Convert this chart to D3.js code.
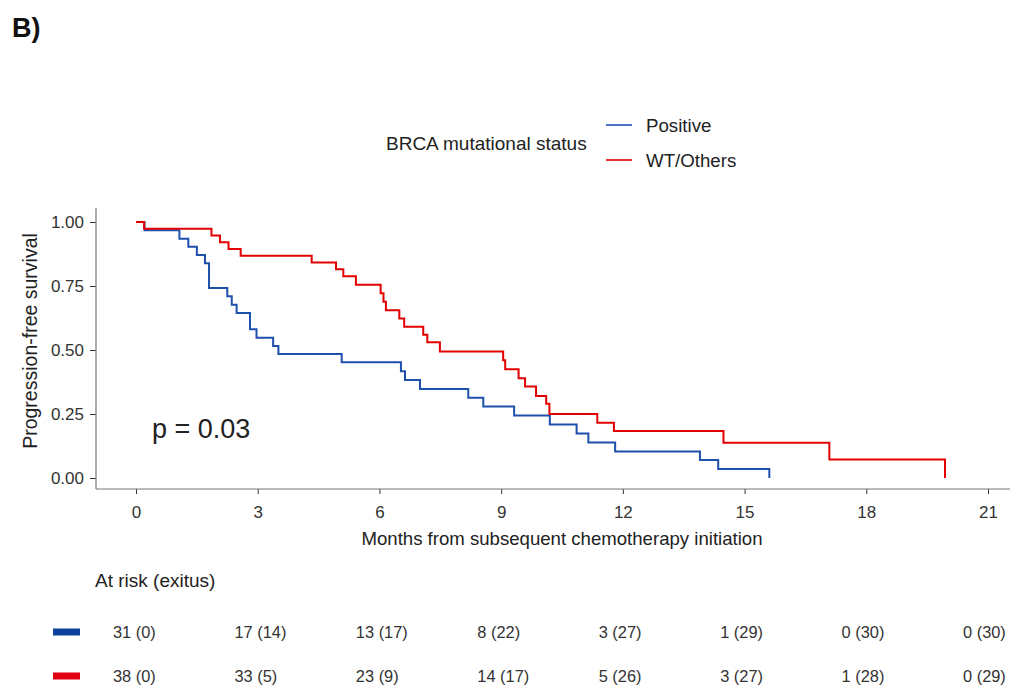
<!DOCTYPE html>
<html>
<head>
<meta charset="utf-8">
<script src="https://cdn.jsdelivr.net/npm/d3@7"></script>
<style>
  body { margin: 0; background: #fff; }
  text { font-family: "Liberation Sans", Arial, sans-serif; }
</style>
</head>
<body>
<svg id="chart" width="1020" height="688"></svg>
<script>
// groups and colours
var groups = ["Positive", "WT/Others"];
var colors = ["#1f4fad", "#e20000"];

// KM steps (months, survival)
var blueTime = [0, 0.21, 1.07, 1.29, 1.50, 1.70, 1.80, 2.25, 2.36, 2.48, 2.81, 2.97, 3.38, 3.51, 5.07, 6.53, 6.63, 7.00, 8.19, 8.56, 9.32, 10.20, 10.86, 11.15, 11.81, 13.90, 14.35, 15.61];
var blueSurv = [1, 0.968, 0.935, 0.903, 0.871, 0.839, 0.742, 0.710, 0.677, 0.645, 0.581, 0.548, 0.516, 0.484, 0.452, 0.417, 0.383, 0.348, 0.313, 0.279, 0.244, 0.209, 0.174, 0.139, 0.104, 0.070, 0.035, 0];

var redTime = [0, 0.20, 1.86, 2.07, 2.28, 2.58, 4.33, 4.93, 5.11, 5.42, 6.03, 6.10, 6.16, 6.49, 6.61, 7.08, 7.18, 7.49, 9.05, 9.10, 9.43, 9.59, 9.86, 10.11, 10.19, 11.37, 11.78, 14.48, 17.09, 19.94];
var redSurv = [1, 0.974, 0.947, 0.921, 0.895, 0.868, 0.842, 0.815, 0.788, 0.755, 0.722, 0.688, 0.655, 0.623, 0.591, 0.560, 0.530, 0.494, 0.460, 0.425, 0.390, 0.357, 0.320, 0.290, 0.250, 0.216, 0.184, 0.138, 0.072, 0];

var xTicks = [0, 3, 6, 9, 12, 15, 18, 21];
var yTicks = [0, 0.25, 0.5, 0.75, 1];

// at risk (exitus)
var riskBlue = ["31 (0)", "17 (14)", "13 (17)", "8 (22)", "3 (27)", "1 (29)", "0 (30)", "0 (30)"];
var riskRed  = ["38 (0)", "33 (5)", "23 (9)", "14 (17)", "5 (26)", "3 (27)", "1 (28)", "0 (29)"];

var svg = d3.select("#chart");

var x = d3.scaleLinear().domain([0, 21]).range([136, 988]);
var y = d3.scaleLinear().domain([0, 1]).range([478, 222]);

// panel label
svg.append("text")
    .attr("x", 12).attr("y", 37)
    .attr("font-size", 27).attr("font-weight", "bold")
    .attr("fill", "#111")
    .text("B)");

// legend
svg.append("text")
    .attr("x", 386).attr("y", 150)
    .attr("font-size", 19).attr("fill", "#222")
    .text("BRCA mutational status");

var legY = [125, 160];
groups.forEach(function(g, i) {
    svg.append("line")
        .attr("x1", 606).attr("x2", 632)
        .attr("y1", legY[i]).attr("y2", legY[i])
        .attr("stroke", colors[i]).attr("stroke-width", 1.6);
    svg.append("text")
        .attr("x", 646).attr("y", legY[i] + 6.5)
        .attr("font-size", 18.7).attr("fill", "#222")
        .text(g);
});

// axes
var xAxis = svg.append("g")
    .attr("transform", "translate(0,489)")
    .call(d3.axisBottom(x).tickValues(xTicks).tickSize(5).tickPadding(12).tickFormat(d3.format("d")));
xAxis.select(".domain").remove();
xAxis.selectAll("line").attr("stroke", "#333");
xAxis.selectAll("text").attr("font-size", 17).attr("fill", "#333")
    .style("font-family", "'Liberation Sans', Arial, sans-serif");

var yAxis = svg.append("g")
    .attr("transform", "translate(96,0)")
    .call(d3.axisLeft(y).tickValues(yTicks).tickSize(6).tickPadding(6).tickFormat(d3.format(".2f")));
yAxis.select(".domain").remove();
yAxis.selectAll("line").attr("stroke", "#333");
yAxis.selectAll("text").attr("font-size", 17).attr("fill", "#333")
    .style("font-family", "'Liberation Sans', Arial, sans-serif");

svg.append("line")
    .attr("x1", 96).attr("x2", 1010).attr("y1", 489).attr("y2", 489)
    .attr("stroke", "#777").attr("stroke-width", 1.2);
svg.append("line")
    .attr("x1", 96).attr("x2", 96).attr("y1", 208).attr("y2", 489)
    .attr("stroke", "#777").attr("stroke-width", 1.2);

// axis titles
svg.append("text")
    .attr("x", 562).attr("y", 545)
    .attr("text-anchor", "middle")
    .attr("font-size", 18.6).attr("fill", "#222")
    .text("Months from subsequent chemotherapy initiation");

svg.append("text")
    .attr("transform", "translate(37,341) rotate(-90)")
    .attr("text-anchor", "middle")
    .attr("font-size", 19.5).attr("fill", "#222")
    .text("Progression-free survival");

// curves
var line = d3.line()
    .x(function(d) { return x(d[0]); })
    .y(function(d) { return y(d[1]); })
    .curve(d3.curveStepAfter);

var series = [d3.zip(blueTime, blueSurv), d3.zip(redTime, redSurv)];
series.forEach(function(s, i) {
    svg.append("path")
        .datum(s)
        .attr("d", line)
        .attr("fill", "none")
        .attr("stroke", colors[i])
        .attr("stroke-width", 2);
});

// p value
svg.append("text")
    .attr("x", 152).attr("y", 438)
    .attr("font-size", 27).attr("fill", "#222")
    .text("p = 0.03");

// risk table
svg.append("text")
    .attr("x", 95).attr("y", 587)
    .attr("font-size", 19).attr("fill", "#222")
    .text("At risk (exitus)");

var xr = d3.scaleLinear().domain([0, 21]).range([113, 963]);
var rowY = [632, 676];
[riskBlue, riskRed].forEach(function(row, i) {
    svg.append("rect")
        .attr("x", 53).attr("y", rowY[i] - 3.5)
        .attr("width", 27).attr("height", 7)
        .attr("fill", i === 0 ? "#0d3f9e" : "#e0000f");
    svg.selectAll(".risk" + i)
        .data(row)
        .enter()
        .append("text")
        .attr("class", "risk" + i)
        .attr("x", function(d, j) { return xr(xTicks[j]); })
        .attr("y", rowY[i] + 6)
        .attr("font-size", 16.4)
        .attr("fill", "#333")
        .text(function(d) { return d; });
});
</script>
</body>
</html>
